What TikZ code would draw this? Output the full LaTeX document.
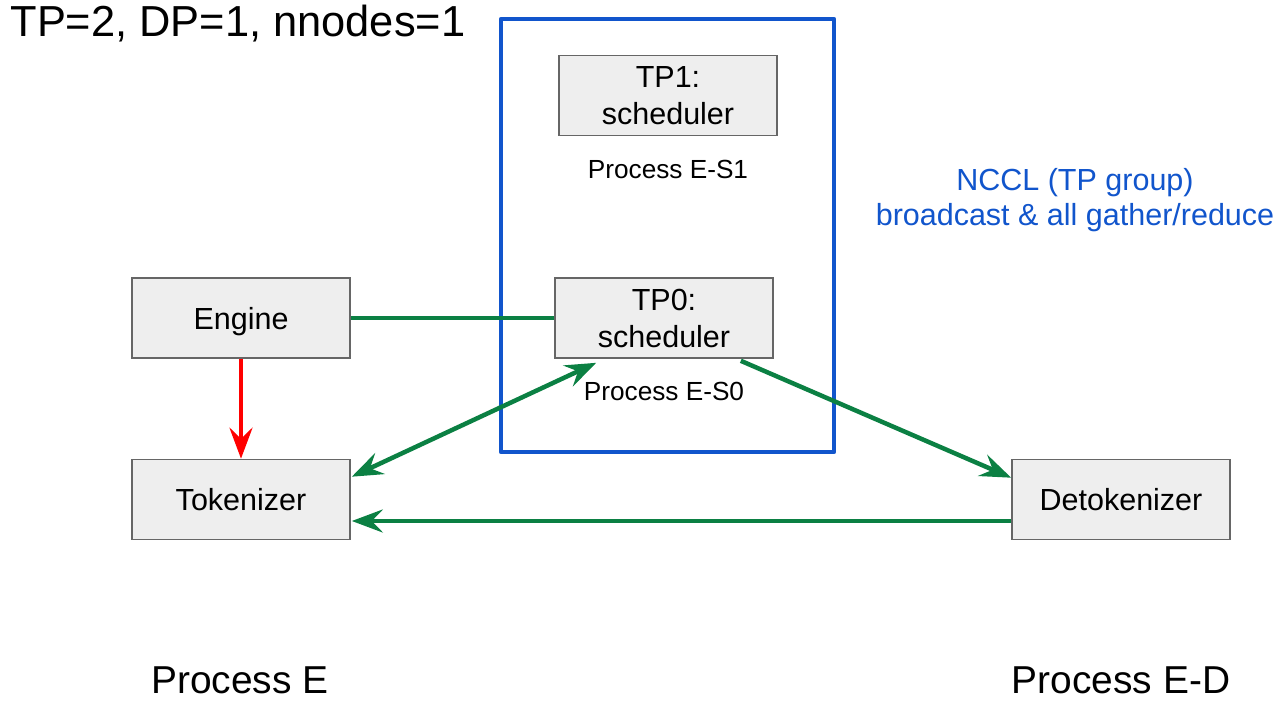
\documentclass[tikz,border=0pt]{standalone}
\usepackage{fontspec}
\setmainfont{Liberation Sans}
\usetikzlibrary{arrows.meta,calc}
\definecolor{gblue}{HTML}{1155CC}
\definecolor{ggreen}{HTML}{0B8043}
\definecolor{gfill}{HTML}{EEEEEE}
\definecolor{gline}{HTML}{666666}
\tikzset{
  box/.style={draw=gline, line width=1.6pt, fill=gfill, minimum width=218pt, minimum height=80pt, inner sep=0pt, align=center, text depth=0pt, font=\fontsize{30.5}{37}\selectfont},
  conn/.style={draw=ggreen, line width=4.5pt},
  tip/.style={-{Stealth[length=31pt, width=23pt, inset=11pt]}},
  small/.style={font=\fontsize{26.2}{30}\selectfont},
  big/.style={font=\fontsize{38.9}{44}\selectfont}
}
\begin{document}
\begin{tikzpicture}[x=1pt, y=-1pt]
\useasboundingbox (0,0) rectangle (1276,704);
\node[anchor=base west, font=\fontsize{43.4}{50}\selectfont] (title) at (7,36) {TP=2, DP=1, nnodes=1};
\draw[gblue, line width=4.5pt, line join=round] (501,19) rectangle (834,452);
\node[box] (tp1) at (668,95.5) {TP1:\\scheduler};
\node[small, anchor=base] (es1) at (668,178) {Process E-S1};
\node[box] (tp0) at (664,318) {TP0:\\scheduler};
\node[small, anchor=base] (es0) at (664,400) {Process E-S0};
\node[box] (engine) at (241,318) {Engine};
\node[box] (tok) at (241,499.5) {Tokenizer};
\node[box] (detok) at (1121,499.5) {Detokenizer};
\node[align=center, text=gblue, font=\fontsize{30.5}{35}\selectfont] (nccl) at (1075,200) {NCCL (TP group)\\broadcast \& all gather/reduce};
\node[big, anchor=base] (pe) at (240,693) {Process E};
\node[big, anchor=base] (ped) at (1121,693) {Process E-D};
\draw[conn] (engine.east) -- (tp0.west);
\draw[draw=red, line width=4.5pt, tip] (engine.south) -- (tok.north);
\draw[conn, {Stealth[length=31pt, width=23pt, inset=11pt]}-{Stealth[length=31pt, width=23pt, inset=11pt]}] ($(tok.north east)+(1,18)$) -- ($(tp0.south west)+(42,4)$);
\draw[conn, tip] ($(tp0.south east)+(-33,2)$) -- ($(detok.north west)+(0,19)$);
\draw[conn, tip] ($(detok.west)+(0,21.5)$) -- ($(tok.east)+(1,21.5)$);
\end{tikzpicture}
\end{document}
